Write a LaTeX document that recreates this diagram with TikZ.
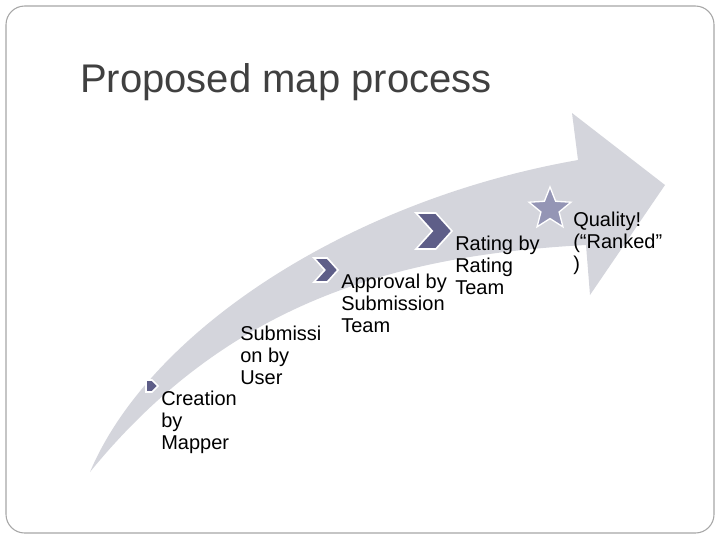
\documentclass[tikz,border=0pt]{standalone}
\usepackage{fontspec}
\setmainfont{Liberation Sans}
\usetikzlibrary{shapes.geometric}
\definecolor{arrowgray}{HTML}{D4D5DC}
\definecolor{chev}{HTML}{5E5E88}
\definecolor{starc}{HTML}{9495B5}
\begin{document}
\begin{tikzpicture}[x=0.75pt,y=-0.75pt,
  lbl/.style={anchor=base west,align=left,inner sep=0pt,font=\fontsize{15}{16.5}\selectfont},
  chevshape/.style={fill=chev,draw=white,line width=1.2pt}]
\useasboundingbox (0,0) rectangle (720,540);
\draw[draw=gray!70,line width=0.8pt,rounded corners=14pt] (6,6) rectangle (714,533);
\node[anchor=west,inner sep=0pt,text=black!75,font=\fontsize{30}{33}\selectfont] (title) at (80,82) {Proposed map process};
% big arrow
\fill[arrowgray] (90,472) .. controls (150,330) and (350,200) .. (578,160)
  -- (572,113) -- (665,185) -- (590,295) -- (586,245)
  .. controls (400,255) and (230,300) .. cycle;
% chevrons
\newcommand{\chevron}[3]{\path[chevshape] (#1,#2) -- ++(0.55*#3,0) -- ++(0.45*#3,0.5*#3) -- ++(-0.45*#3,0.5*#3) -- ++(-0.55*#3,0) -- ++(0.45*#3,-0.5*#3) -- cycle;}
\path[chevshape] (146,380) -- (152,380) -- (158,386) -- (152,392) -- (146,392) -- cycle;
\chevron{314}{258}{24}
\chevron{416}{213}{36}
\node[star,star points=5,star point ratio=2.3,fill=starc,draw=white,line width=1pt,minimum size=44*0.75pt,inner sep=0pt] (st) at (550,209) {};
\node[lbl] (c1) at (161,449) {Creation\\by\\Mapper};
\node[lbl] (c2) at (240,384) {Submissi\\on by\\User};
\node[lbl] (c3) at (341,332) {Approval by\\Submission\\Team};
\node[lbl] (c4) at (455,294) {Rating by\\Rating\\Team};
\node[lbl] (c5) at (573,270) {Quality!\\(“Ranked”\\)};
\end{tikzpicture}
\end{document}
